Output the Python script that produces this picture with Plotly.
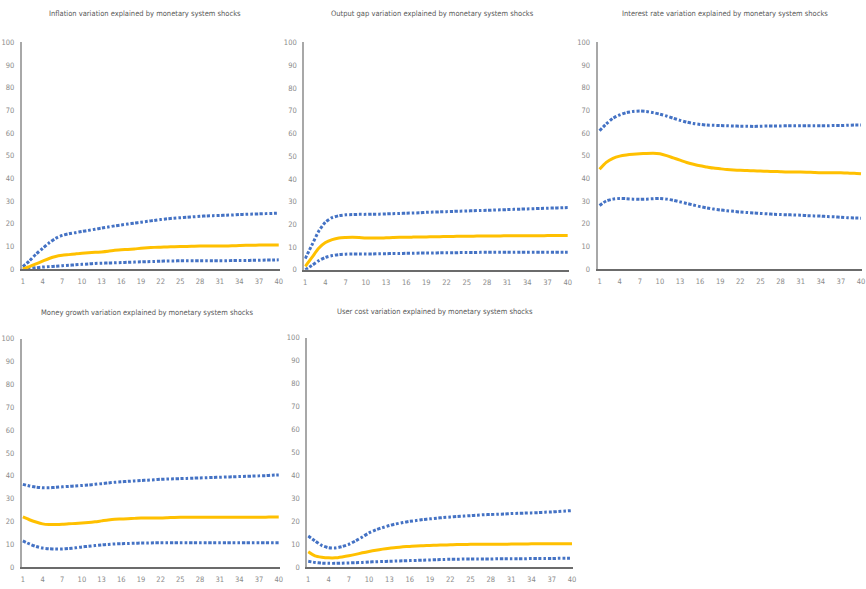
import plotly.graph_objects as go

periods = list(range(1, 41))
x_tick_labels = [1, 4, 7, 10, 13, 16, 19, 22, 25, 28, 31, 34, 37, 40]
y_tick_labels = [0, 10, 20, 30, 40, 50, 60, 70, 80, 90, 100]

titles = [
    "Inflation variation explained by monetary system shocks",
    "Output gap variation explained by monetary system shocks",
    "Interest rate variation explained by monetary system shocks",
    "Money growth variation explained by monetary system shocks",
    "User cost variation explained by monetary system shocks",
]

inflation_upper = [1, 3.5, 6.5, 9, 11.5, 13.5, 14.8, 15.5, 16, 16.5, 17, 17.5, 18, 18.5, 19, 19.4, 19.8, 20.2, 20.6, 21,
                   21.4, 21.8, 22.1, 22.4, 22.6, 22.8, 23, 23.2, 23.4, 23.5, 23.6, 23.7, 23.8, 24, 24.1, 24.2, 24.3, 24.4, 24.5, 24.6]
inflation_mid = [0, 1, 2.2, 3.4, 4.6, 5.5, 6, 6.3, 6.6, 6.9, 7.1, 7.3, 7.5, 7.8, 8.2, 8.5, 8.6, 8.8, 9.1, 9.3,
                 9.5, 9.6, 9.7, 9.8, 9.9, 9.9, 10, 10.1, 10.1, 10.1, 10.1, 10.1, 10.2, 10.3, 10.4, 10.4, 10.5, 10.5, 10.5, 10.5]
inflation_lower = [0, 0.2, 0.5, 0.8, 1.0, 1.2, 1.4, 1.6, 1.8, 2.0, 2.2, 2.4, 2.5, 2.6, 2.7, 2.8, 2.9, 3.0, 3.1, 3.2,
                   3.3, 3.4, 3.5, 3.5, 3.6, 3.6, 3.6, 3.6, 3.6, 3.6, 3.6, 3.6, 3.7, 3.7, 3.7, 3.8, 3.8, 3.9, 3.9, 4.0]

output_upper = [5, 11, 17, 21, 23, 23.8, 24.2, 24.3, 24.4, 24.4, 24.5, 24.5, 24.6, 24.7, 24.8, 24.9, 25, 25.1, 25.3, 25.4,
                25.5, 25.6, 25.7, 25.8, 25.9, 26, 26.1, 26.2, 26.3, 26.4, 26.5, 26.6, 26.7, 26.8, 26.9, 27, 27.1, 27.2, 27.3, 27.4]
output_mid = [1.5, 5.5, 9.5, 12, 13.3, 14, 14.2, 14.3, 14.2, 14, 14, 14, 14.1, 14.2, 14.3, 14.3, 14.4, 14.5, 14.5, 14.6,
              14.6, 14.7, 14.7, 14.8, 14.8, 14.8, 14.9, 14.9, 14.9, 14.9, 15, 15, 15, 15, 15, 15, 15.1, 15.1, 15.1, 15.1]
output_lower = [0, 2, 4, 5.5, 6.3, 6.7, 6.9, 7, 7, 7, 7, 7.1, 7.1, 7.2, 7.2, 7.3, 7.3, 7.4, 7.4, 7.4,
                7.5, 7.5, 7.5, 7.6, 7.6, 7.6, 7.7, 7.7, 7.7, 7.7, 7.7, 7.7, 7.8, 7.8, 7.8, 7.8, 7.8, 7.8, 7.8, 7.8]

interest_upper = [61, 64, 66.5, 68, 69, 69.5, 69.7, 69.5, 69, 68.3, 67.5, 66.5, 65.6, 64.8, 64.2, 63.8, 63.5, 63.4, 63.3, 63.2,
                  63.1, 63, 63, 62.9, 63, 63.1, 63.1, 63.1, 63.2, 63.2, 63.2, 63.2, 63.2, 63.2, 63.2, 63.3, 63.3, 63.4, 63.5, 63.5]
interest_mid = [44, 47, 48.8, 49.8, 50.3, 50.6, 50.8, 51, 51.1, 50.8, 50, 49, 48, 47, 46.2, 45.5, 45, 44.5, 44.2, 43.9,
                43.7, 43.5, 43.4, 43.3, 43.2, 43.1, 43, 42.9, 42.8, 42.8, 42.8, 42.7, 42.6, 42.5, 42.5, 42.5, 42.4, 42.3, 42.2, 42]
interest_lower = [28, 30, 30.8, 31.1, 31, 30.8, 30.7, 30.8, 31, 31.1, 30.8, 30.3, 29.6, 28.9, 28.2, 27.5, 26.9, 26.4, 26, 25.7,
                  25.4, 25.1, 24.9, 24.7, 24.5, 24.3, 24.1, 24, 23.9, 23.8, 23.7, 23.5, 23.4, 23.3, 23.1, 23, 22.8, 22.6, 22.5, 22.4]

money_upper = [36.3, 35.6, 35.1, 34.8, 34.8, 35, 35.2, 35.4, 35.6, 35.8, 36, 36.3, 36.6, 36.9, 37.2, 37.4, 37.6, 37.8, 38, 38.1,
               38.3, 38.5, 38.6, 38.7, 38.8, 38.9, 39, 39.1, 39.2, 39.3, 39.4, 39.5, 39.6, 39.7, 39.8, 39.9, 40, 40.1, 40.3, 40.4]
money_mid = [22, 20.8, 19.8, 19, 18.7, 18.7, 18.8, 19, 19.2, 19.4, 19.6, 19.9, 20.3, 20.7, 21, 21.1, 21.2, 21.4, 21.6, 21.6,
             21.6, 21.6, 21.7, 21.8, 21.9, 21.9, 21.9, 21.9, 21.9, 21.9, 21.9, 21.9, 21.9, 21.9, 21.9, 21.9, 21.9, 21.9, 22, 22]
money_lower = [11.5, 10.2, 9.1, 8.4, 8.1, 8, 8, 8.2, 8.5, 8.9, 9.2, 9.5, 9.8, 10, 10.2, 10.3, 10.4, 10.5, 10.6, 10.6,
               10.7, 10.7, 10.7, 10.7, 10.7, 10.7, 10.7, 10.7, 10.7, 10.7, 10.7, 10.7, 10.7, 10.7, 10.7, 10.7, 10.7, 10.7, 10.7, 10.7]

usercost_upper = [13.6, 11.5, 9.5, 8.5, 8.4, 9, 10, 11.5, 13.2, 15, 16.3, 17.3, 18.2, 18.9, 19.5, 20, 20.4, 20.8, 21.1, 21.4,
                  21.7, 21.9, 22.1, 22.3, 22.5, 22.7, 22.9, 23, 23.1, 23.2, 23.4, 23.5, 23.6, 23.7, 23.8, 24, 24.1, 24.3, 24.5, 24.7]
usercost_mid = [6.8, 5, 4.4, 4.1, 4.1, 4.5, 5, 5.6, 6.3, 6.9, 7.4, 7.9, 8.3, 8.6, 8.9, 9.1, 9.3, 9.4, 9.5, 9.6,
                9.7, 9.8, 9.9, 9.9, 10, 10, 10, 10, 10, 10, 10.1, 10.1, 10.1, 10.2, 10.2, 10.2, 10.2, 10.2, 10.2, 10.2]
usercost_lower = [2.6, 2.1, 1.8, 1.7, 1.7, 1.8, 1.9, 2, 2.1, 2.3, 2.4, 2.5, 2.6, 2.7, 2.8, 2.9, 3, 3.1, 3.2, 3.3,
                  3.4, 3.5, 3.5, 3.6, 3.6, 3.6, 3.6, 3.6, 3.7, 3.7, 3.7, 3.7, 3.7, 3.8, 3.8, 3.8, 3.8, 3.9, 3.9, 3.9]

panels_data = [
    (inflation_upper, inflation_mid, inflation_lower),
    (output_upper, output_mid, output_lower),
    (interest_upper, interest_mid, interest_lower),
    (money_upper, money_mid, money_lower),
    (usercost_upper, usercost_mid, usercost_lower),
]

W, H = 866, 589
# pixel boxes: (x_left, x_right, y_top(=100), y_bottom(=0)), title center x, title y
boxes = [
    (21, 281, 39, 269, 145, 10),
    (305, 571, 39, 270, 434, 10),
    (600, 866, 39, 269, 728, 10),
    (21, 281, 340, 572, 147, 313),
    (308, 575, 339, 572, 437, 312),
]
x_ranges = [
    [0.85, 40.25],
    [0.85, 40.15],
    [0.70, 40.15],
    [0.85, 40.25],
    [0.85, 40.1],
]

BLUE = "#4472C4"
GOLD = "#FFC000"
FONT = "DejaVu Sans Condensed, Liberation Sans Narrow, Liberation Sans, sans-serif"

fig = go.Figure()
layout = dict(
    width=W, height=H,
    margin=dict(l=0, r=0, t=0, b=0),
    paper_bgcolor="white", plot_bgcolor="white",
    showlegend=False,
    annotations=[],
)

for i, (data, box, title, xr) in enumerate(zip(panels_data, boxes, titles, x_ranges)):
    n = "" if i == 0 else str(i + 1)
    xl, xrt, yt, yb, tx, ty = box
    upper, mid, lower = data
    for vals, color, dash, width in [
        (upper, BLUE, "3px,1.8px", 3),
        (lower, BLUE, "3px,1.8px", 3),
        (mid, GOLD, "solid", 3),
    ]:
        fig.add_trace(go.Scatter(
            x=periods, y=vals, mode="lines",
            line=dict(color=color, width=width, dash=dash, shape="spline", smoothing=0.6),
            xaxis="x" + n, yaxis="y" + n, hoverinfo="skip", cliponaxis=True,
        ))
    layout["xaxis" + n] = dict(
        domain=[xl / W, xrt / W], anchor="y" + n,
        range=xr, tickvals=x_tick_labels, ticktext=[str(v) for v in x_tick_labels],
        showgrid=False, zeroline=False, showline=True, linecolor="#6b6b6b", linewidth=2,
        ticks="outside", ticklen=4, tickcolor="rgba(0,0,0,0)",
        tickfont=dict(family=FONT, size=7.5, color="#8a8a8a"), fixedrange=True,
    )
    layout["yaxis" + n] = dict(
        domain=[1 - yb / H, 1 - yt / H], anchor="x" + n,
        range=[0, 100], tickvals=y_tick_labels,
        showgrid=False, zeroline=False, showline=True, linecolor="#a8a8a8", linewidth=2,
        ticks="outside", ticklen=4, tickcolor="rgba(0,0,0,0)",
        tickfont=dict(family=FONT, size=7.5, color="#8a8a8a"), fixedrange=True,
    )
    layout["annotations"].append(dict(
        text=title, x=tx / W, y=1 - ty / H, xref="paper", yref="paper",
        xanchor="center", yanchor="middle", showarrow=False,
        font=dict(family=FONT, size=7.5, color="#595959"),
    ))

fig.update_layout(**layout)
fig.write_html(
    "out.html",
    config={"displayModeBar": False, "staticPlot": True},
    post_script="document.body.style.margin='0';document.body.style.overflow='hidden';",
)
